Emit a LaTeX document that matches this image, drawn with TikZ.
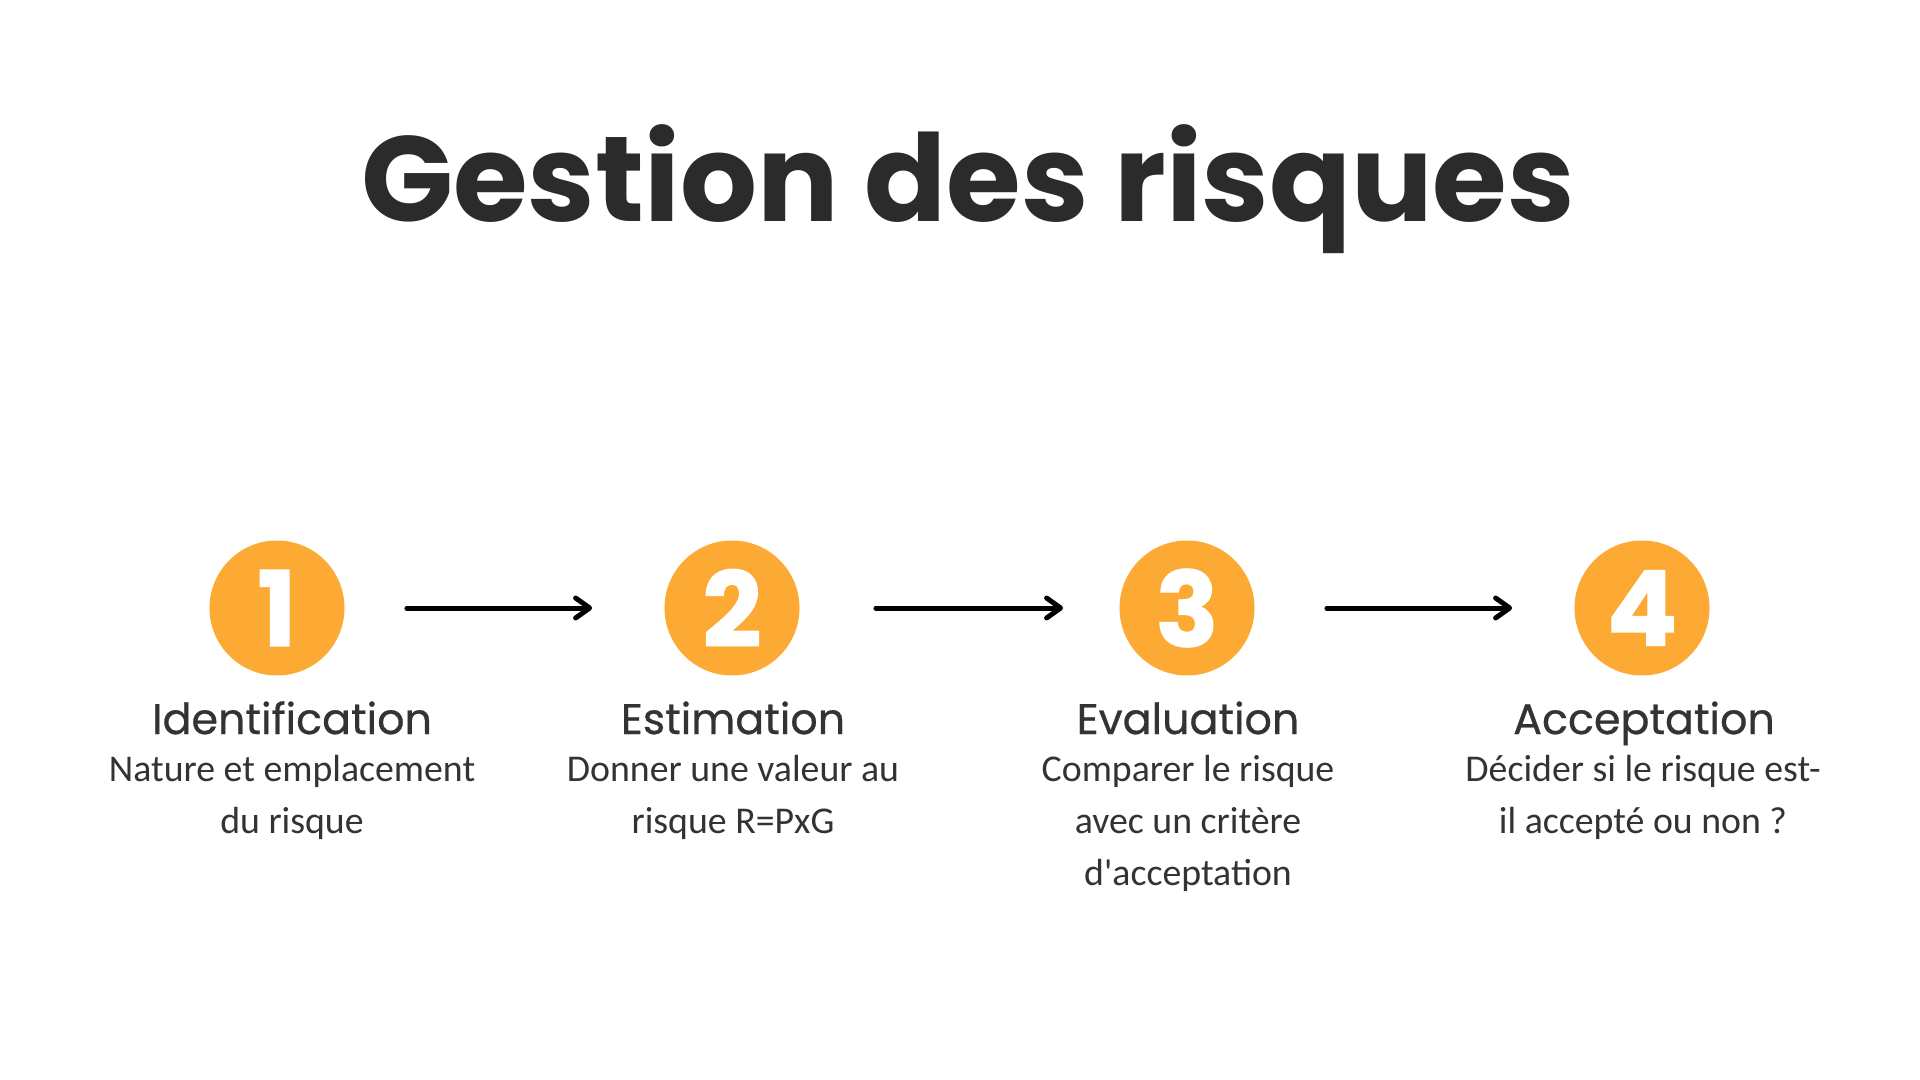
\documentclass[tikz,border=0pt]{standalone}
\usepackage{fontspec}
\setmainfont{Poppins}
\newfontfamily\headfont{Poppins}[FakeBold=0.6]
\newfontfamily\digitfont{Poppins}[BoldFeatures={FakeBold=1.2}]
\newfontfamily\descfont{Carlito}
\usetikzlibrary{arrows.meta}
\definecolor{stepor}{HTML}{FDAA35}
\definecolor{titlec}{HTML}{2B2B2B}
\definecolor{txtc}{HTML}{333333}
\tikzset{
  num/.style={circle, fill=stepor, minimum size=67.5pt, inner sep=0pt, text=white,
    font=\digitfont\fontsize{52}{52}\selectfont\bfseries},
  head/.style={anchor=base, text=txtc, inner sep=0pt, font=\headfont\fontsize{21.4}{21.4}\selectfont},
  desc/.style={anchor=base, text=txtc, inner sep=0pt, font=\descfont\fontsize{18.9}{18.9}\selectfont},
  link/.style={line width=2.5pt, line cap=round, draw=black,
    -{Straight Barb[length=7pt,width=10pt,round]}},
}
\begin{document}
\begin{tikzpicture}[x=0.5pt,y=-0.5pt]
\useasboundingbox (0,0) rectangle (1920,1080);
\fill[white] (0,0) rectangle (1920,1080);
\node[anchor=base, text=titlec, inner sep=0pt, font=\fontsize{60.5}{60.5}\selectfont\bfseries] (title) at (968,222) {Gestion des risques};

\node[num] (c1) at (277,608) {1};
\node[num] (c2) at (732,608) {2};
\node[num] (c3) at (1187,608) {3};
\node[num] (c4) at (1642,608) {4};

\draw[link, shorten <=31pt, shorten >=36pt] (c1) -- (c2);
\draw[link, shorten <=38pt, shorten >=28pt] (c2) -- (c3);
\draw[link, shorten <=36pt, shorten >=31pt] (c3) -- (c4);

\node[head] (h1) at (292,734) {Identification};
\node[head] (h2) at (733,734) {Estimation};
\node[head] (h3) at (1188,734) {Evaluation};
\node[head] (h4) at (1644,734) {Acceptation};

\node[desc] (d1a) at (292,781) {Nature et emplacement};
\node[desc] (d1b) at (292,833) {du risque};
\node[desc] (d2a) at (733,781) {Donner une valeur au};
\node[desc] (d2b) at (733,833) {risque R=PxG};
\node[desc] (d3a) at (1188,781) {Comparer le risque};
\node[desc] (d3b) at (1188,833) {avec un critère};
\node[desc] (d3c) at (1188,885) {d'acceptation};
\node[desc] (d4a) at (1643,781) {Décider si le risque est-};
\node[desc] (d4b) at (1643,833) {il accepté ou non ?};
\end{tikzpicture}
\end{document}
